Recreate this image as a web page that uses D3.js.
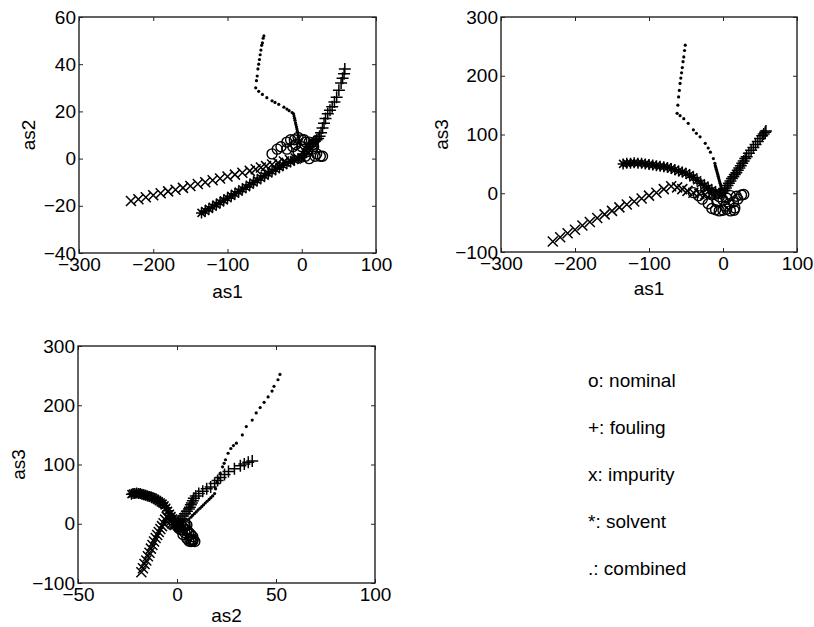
<!DOCTYPE html>
<html>
<head>
<meta charset="utf-8">
<script src="https://cdn.jsdelivr.net/npm/d3@7"></script>
<style>
  body { margin: 0; background: #fff; }
  svg { display: block; font-family: 'Liberation Sans', Arial, Helvetica, sans-serif; }
</style>
</head>
<body>
<script>
// score trajectories (as1, as2, as3) for each operating condition
const nominalAs1 = [-40, -33, -28, -20, -15, -10, -5, 0, 5, 10, 15, 16, 14, 20, 25, 28, 18, 10, 5, -5, -12, -20, 0, -8, 8, 3]
const nominalAs2 = [2, 4, 5, 7, 8, 8, 9, 8, 7, 7, 6, 5, 4, 2, 1, 1, 1, 0, 1, 3, 5, 4, 5, 6, 3, 8]
const nominalAs3 = [1, -4, -10, -18, -26, -28, -30, -29, -27, -30, -29, -25, -15, -10, -3, -2, -5, -4, -8, -6, -2, 0, -12, -15, -18, -22]

const foulingAs1 = [2, 4, 6, 8, 10, 12, 14, 16, 18, 20, 22, 24, 26, 28, 30, 32, 35, 38, 41, 44, 47, 50, 53, 55, 57, 58]
const foulingAs2 = [1, 2, 3, 4, 5, 6, 6.5, 7, 7.5, 8, 8.5, 9.5, 11, 13, 15, 17, 19, 20.5, 22, 24, 26, 29, 32, 34, 36, 38]
const foulingAs3 = [5, 9, 13, 17, 21, 25, 28, 32, 35, 39, 43, 47, 51, 55, 59, 62, 68, 73, 78, 83, 88, 93, 98, 101, 104, 106]

const impurityAs1 = [-230, -220, -210, -200, -190, -180, -170, -160, -150, -140, -130, -120, -110, -100, -90, -80, -70, -62, -55, -48, -40, -32, -24, -16, -8]
const impurityAs2 = [-18, -17.2, -16.4, -15.5, -14.7, -13.9, -13.2, -12.4, -11.6, -10.8, -10, -9.2, -8.4, -7.6, -6.8, -6, -5.2, -4.5, -3.8, -3.2, -2.5, -1.8, -1.2, -0.6, 0]
const impurityAs3 = [-82, -75, -68, -62, -55, -49, -42, -36, -30, -24, -19, -14, -9, -4, 1, 7, 12, 10, 7, 4, 1, -1, -2, -1, 0]

const solventAs1 = [-135, -130, -125, -120, -115, -110, -105, -100, -95, -90, -85, -80, -75, -70, -65, -60, -55, -50, -45, -40, -35, -30, -25, -20, -15, -10, -5, 0]
const solventAs2 = [-23, -22.2, -21.3, -20.4, -19.5, -18.6, -17.7, -16.8, -15.8, -14.9, -14, -13, -12.1, -11.1, -10.1, -9.2, -8.2, -7.3, -6.3, -5.4, -4.5, -3.6, -2.8, -2, -1.3, -0.6, 0, 0.5]
const solventAs3 = [50, 51, 51, 52, 51, 51, 50, 49, 48, 47, 46, 45, 44, 42, 40, 38, 36, 34, 31, 27, 22, 17, 13, 9, 5, 2, 0, 0]

const combinedAs1 = [-2, -2.6, -3.3, -3.9, -4.6, -5.2, -5.9, -6.5, -7.1, -7.8, -8.4, -9.1, -9.7, -10.4, -11,
  -13, -17, -20, -24, -31, -36, -40, -47, -53, -58, -62,
  -61, -60, -59, -58, -57, -56, -55, -54, -53, -52, -51]
const combinedAs2 = [6, 7, 7.8, 8.8, 9.7, 10.6, 11.6, 12.5, 13.4, 14.3, 15.2, 16.2, 17.1, 18, 19,
  19.5, 20.3, 21, 21.8, 23, 23.8, 24.5, 25.8, 27.2, 28.5, 30,
  33, 35, 38, 40, 42, 44, 46, 48, 49, 51, 52]
const combinedAs3 = [8, 11, 14, 17, 20, 23, 26, 29, 32, 35, 38, 41, 44, 47, 51,
  59, 70, 77, 85, 96, 102, 108, 119, 127, 132, 136,
  150, 164, 175, 187, 196, 205, 214, 224, 232, 243, 252]

const legendLabels = ['o: nominal', '+: fouling', 'x: impurity', '*: solvent', '.: combined']
const as1Ticks = [-300, -200, -100, 0, 100]
const as2Ticks = [-40, -20, 0, 20, 40, 60]
const as2WideTicks = [-50, 0, 50, 100]
const as3Ticks = [-100, 0, 100, 200, 300]

const width = 814
const height = 627
const fontSize = 19

const series = [
  { marker: 'o', as1: nominalAs1, as2: nominalAs2, as3: nominalAs3 },
  { marker: '+', as1: foulingAs1, as2: foulingAs2, as3: foulingAs3 },
  { marker: 'x', as1: impurityAs1, as2: impurityAs2, as3: impurityAs3 },
  { marker: '*', as1: solventAs1, as2: solventAs2, as3: solventAs3 },
  { marker: '.', as1: combinedAs1, as2: combinedAs2, as3: combinedAs3 }
]

const panels = [
  { xKey: 'as1', yKey: 'as2', left: 79, top: 17, w: 297, h: 236, xDomain: [-300, 100], yDomain: [-40, 60], xTicks: as1Ticks, yTicks: as2Ticks, xLabelGap: 45, yLabelGap: 44 },
  { xKey: 'as1', yKey: 'as3', left: 501, top: 17, w: 296, h: 235, xDomain: [-300, 100], yDomain: [-100, 300], xTicks: as1Ticks, yTicks: as3Ticks, xLabelGap: 43, yLabelGap: 53 },
  { xKey: 'as2', yKey: 'as3', left: 78, top: 346, w: 297, h: 237, xDomain: [-50, 100], yDomain: [-100, 300], xTicks: as2WideTicks, yTicks: as3Ticks, xLabelGap: 39, yLabelGap: 53 }
]

const svg = d3.select('body')
  .append('svg')
  .attr('width', width)
  .attr('height', height)

function markerPath (m) {
  if (m === '+') return 'M-6,0H6M0,-6V6'
  if (m === 'x') return 'M-5,-5L5,5M-5,5L5,-5'
  // asterisk
  return 'M-5.5,0H5.5M0,-5.5V5.5M-4,-4L4,4M-4,4L4,-4'
}

const fmt = d3.format('d')

panels.forEach((p) => {
  const x = d3.scaleLinear().domain(p.xDomain).range([0, p.w])
  const y = d3.scaleLinear().domain(p.yDomain).range([p.h, 0])

  const g = svg.append('g')
    .attr('transform', `translate(${ p.left }, ${ p.top })`)

  // axes: inward ticks on all four sides, labels bottom / left
  const bottom = g.append('g')
    .attr('transform', `translate(0, ${ p.h })`)
    .call(d3.axisBottom(x).tickValues(p.xTicks).tickFormat(fmt).tickSizeInner(-4).tickSizeOuter(0).tickPadding(5))
  const left = g.append('g')
    .call(d3.axisLeft(y).tickValues(p.yTicks).tickFormat(fmt).tickSizeInner(-4).tickSizeOuter(0).tickPadding(3))
  g.append('g')
    .call(d3.axisTop(x).tickValues(p.xTicks).tickFormat('').tickSizeInner(-4).tickSizeOuter(0))
  g.append('g')
    .attr('transform', `translate(${ p.w }, 0)`)
    .call(d3.axisRight(y).tickValues(p.yTicks).tickFormat('').tickSizeInner(-4).tickSizeOuter(0))

  g.selectAll('.domain').remove()
  g.selectAll('.tick line').attr('stroke', '#222').attr('stroke-width', 1)
  ;[bottom, left].forEach((a) => {
    a.attr('font-size', fontSize).attr('font-family', null)
    a.selectAll('text').attr('fill', '#000')
  })

  g.append('rect')
    .attr('width', p.w)
    .attr('height', p.h)
    .attr('fill', 'none')
    .attr('stroke', '#222')
    .attr('stroke-width', 1.4)

  // markers
  series.forEach((s) => {
    const pts = s[p.xKey].map((v, i) => [x(v), y(s[p.yKey][i])])
    const layer = g.append('g')
    if (s.marker === 'o') {
      layer.selectAll('circle').data(pts).enter()
        .append('circle')
        .attr('cx', (d) => d[0])
        .attr('cy', (d) => d[1])
        .attr('r', 5)
        .attr('fill', 'none')
        .attr('stroke', '#000')
        .attr('stroke-width', 1.4)
    } else if (s.marker === '.') {
      layer.selectAll('circle').data(pts).enter()
        .append('circle')
        .attr('cx', (d) => d[0])
        .attr('cy', (d) => d[1])
        .attr('r', 1.6)
        .attr('fill', '#000')
    } else {
      layer.selectAll('path').data(pts).enter()
        .append('path')
        .attr('transform', (d) => `translate(${ d[0] }, ${ d[1] })`)
        .attr('d', markerPath(s.marker))
        .attr('fill', 'none')
        .attr('stroke', '#000')
        .attr('stroke-width', 1.5)
    }
  })

  // axis titles
  g.append('text')
    .attr('x', p.w / 2)
    .attr('y', p.h + p.xLabelGap)
    .attr('text-anchor', 'middle')
    .attr('font-size', fontSize)
    .text(p.xKey)
  g.append('text')
    .attr('transform', `translate(${ -p.yLabelGap }, ${ p.h / 2 }) rotate(-90)`)
    .attr('text-anchor', 'middle')
    .attr('font-size', fontSize)
    .text(p.yKey)
})

/* ------- LEGEND TEXT -------*/
svg.append('g')
  .selectAll('text')
  .data(legendLabels)
  .enter()
  .append('text')
  .attr('x', 588)
  .attr('y', (d, i) => 387 + i * 47)
  .attr('font-size', fontSize)
  .text((d) => d)
</script>
</body>
</html>
